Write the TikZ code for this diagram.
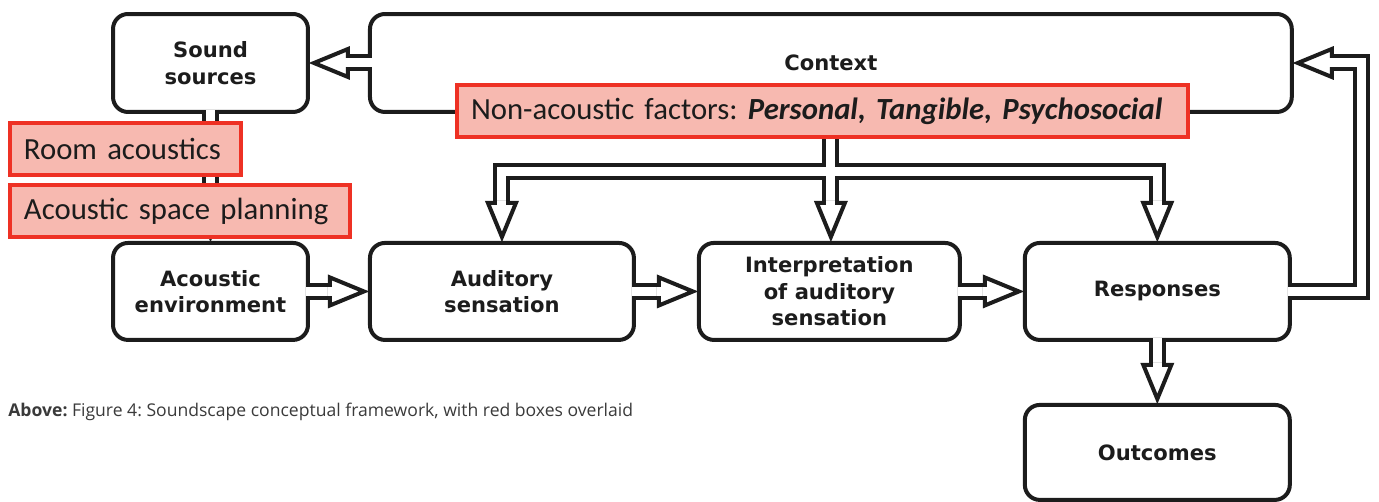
\documentclass[tikz,border=0pt]{standalone}
\usepackage{fontspec}
\usepackage{xcolor}
\usetikzlibrary{positioning, calc}

\newfontfamily\boxfont{DejaVu Sans}
\newfontfamily\notefont{Carlito}
\newfontfamily\capfont{Open Sans}

\definecolor{ink}{HTML}{1C1C1C}
\definecolor{noteline}{HTML}{EE3124}
\definecolor{notefill}{HTML}{F7B9B0}
\definecolor{capgray}{HTML}{3A3A3A}

\tikzset{
    hd/.pic={
        \draw[draw=ink, line width=0.08cm, fill=white, line join=miter] (0,0) -- (-34,14) -- (-34,-14) -- cycle;
        \fill[white] (-36,-4.5) rectangle (-31,4.5);
    }
}

\begin{document}
\frenchspacing
\begin{tikzpicture}[
    x=0.02cm, y=-0.02cm,
    box/.style={rectangle, draw=ink, line width=0.08cm, outer sep=0pt, rounded corners=0.3cm, align=center, text=ink, minimum height=1.96cm, font=\boxfont\bfseries\fontsize{12}{15}\selectfont},
    note/.style={rectangle, draw=noteline, fill=notefill, line width=0.08cm, align=left, text=ink, anchor=west, inner xsep=0.28cm, minimum height=1.04cm, font=\notefont\fontsize{17.5}{20}\selectfont},
    dbl/.style={draw=ink, double=white, line width=0.08cm, double distance=0.18cm}
]
\useasboundingbox (0,0) rectangle (1379,502);

% Nodes
\node (sound) [box, minimum width=3.9cm] at (210.5,63) {Sound\\sources};
\node (context) [box, minimum width=18.44cm, right=1.24cm of sound] {Context};

\node (env) [box, minimum width=3.9cm, minimum height=1.94cm, below=2.62cm of sound] {Acoustic\\environment};
\node (aud) [box, minimum width=5.28cm, minimum height=1.94cm, right=1.24cm of env] {Auditory\\sensation};
\node (interp) [box, minimum width=5.22cm, minimum height=1.94cm, right=1.3cm of aud] {Interpretation\\of auditory\\sensation};
\node (resp) [box, minimum width=5.3cm, minimum height=1.94cm, right=1.3cm of interp] {Responses};

\node (outc) [box, minimum width=5.3cm, minimum height=1.9cm, below=1.3cm of resp] {Outcomes};

% Arrows
\draw [dbl] ($(context.west)+(2,0)$) -- ($(sound.east)+(40,0)$);
\pic [rotate=180] at ($(sound.east)+(6,0)$) {hd};

\draw [dbl] ($(sound.south)+(0,-2)$) -- ($(env.north)+(0,-40)$);
\pic [rotate=-90] at ($(env.north)+(0,-6)$) {hd};

\draw [dbl] ($(env.east)+(-2,0)$) -- ($(aud.west)+(-40,0)$);
\pic at ($(aud.west)+(-6,0)$) {hd};
\draw [dbl] ($(aud.east)+(-2,0)$) -- ($(interp.west)+(-40,0)$);
\pic at ($(interp.west)+(-6,0)$) {hd};
\draw [dbl] ($(interp.east)+(-2,0)$) -- ($(resp.west)+(-40,0)$);
\pic at ($(resp.west)+(-6,0)$) {hd};

\draw [dbl] ($(resp.south)+(0,-2)$) -- ($(outc.north)+(0,-40)$);
\pic [rotate=-90] at ($(outc.north)+(0,-6)$) {hd};

\draw [dbl] ($(context.south)+(0,-2)$) -- ($(context.south |- interp.north)+(0,-40)$)
    ($(context.south)+(0,60)$) -| ($(aud.north)+(0,-40)$)
    ($(context.south)+(0,60)$) -| ($(resp.north)+(0,-40)$);
\pic [rotate=-90] at ($(aud.north)+(0,-6)$) {hd};
\pic [rotate=-90] at ($(context.south |- interp.north)+(0,-6)$) {hd};
\pic [rotate=-90] at ($(resp.north)+(0,-6)$) {hd};

\draw [dbl] ($(resp.east)+(-2,0)$) -| ($(context.east)+(70,0)$) -- ($(context.east)+(40,0)$);
\pic [rotate=180] at ($(context.east)+(6,0)$) {hd};

% Red overlays
\node (room) [note, text width=4.06cm] at (8,149) {Room acoustics};
\node (plan) [note, text width=6.24cm] at (8,211) {Acoustic space planning};
\node (nonac) [note, text width=14.06cm] at (455,111) {Non-acoustic factors: \textbf{\textit{Personal, Tangible, Psychosocial}}};

\node (cap) [anchor=west, inner sep=0pt, text=capgray, font=\capfont\fontsize{10}{12}\selectfont] at (8,412) {\textbf{Above:} Figure 4: Soundscape conceptual framework, with red boxes overlaid};

\end{tikzpicture}
\end{document}
